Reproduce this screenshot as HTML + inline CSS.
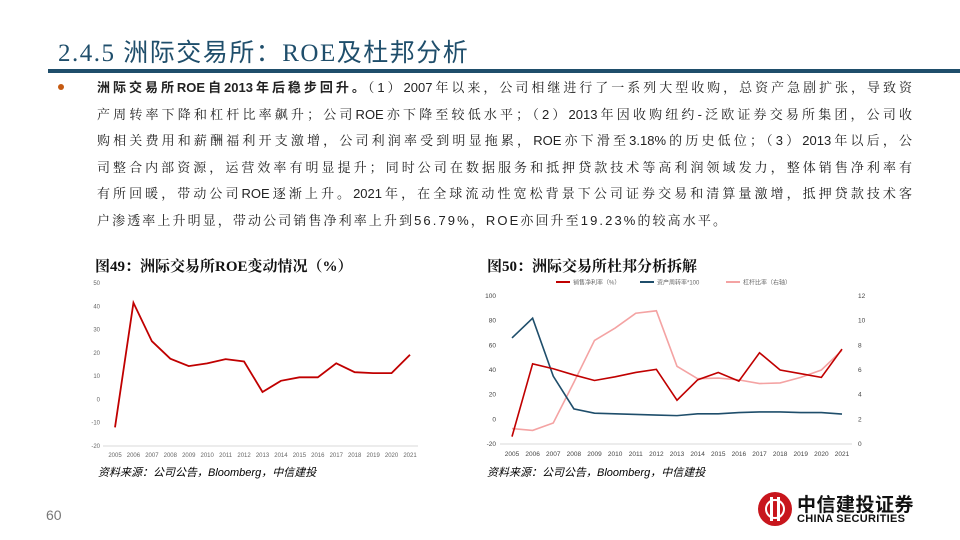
<!DOCTYPE html>
<html><head><meta charset="utf-8">
<style>
*{margin:0;padding:0;box-sizing:border-box}
body{width:960px;height:540px;background:#fff;position:relative;overflow:hidden;font-family:"Liberation Sans","Noto Sans CJK SC",sans-serif}
.title{position:absolute;left:58px;top:33px;font-size:25px;color:#1f4e6b;font-family:"Liberation Serif","Noto Sans CJK SC",serif;letter-spacing:1.5px;white-space:nowrap}
.rule{position:absolute;left:48px;top:69px;width:912px;height:4px;background:#1f4e6b}
.bullet{position:absolute;left:58px;top:84px;width:6px;height:6px;border-radius:50%;background:#c55a11}
.body{position:absolute;left:97px;top:75px;width:815px;font-size:13px;line-height:26.5px;color:#222;font-family:"Liberation Sans","Noto Serif CJK SC",serif}
.body div{text-align:justify;text-align-last:justify;white-space:nowrap;height:26.5px}
.body div.last{text-align-last:left;letter-spacing:2.1px}
.body b{font-weight:bold;font-family:"Liberation Sans","Noto Sans CJK SC",sans-serif}
.ct{position:absolute;top:255px;font-size:15px;font-weight:bold;color:#111;font-family:"Liberation Serif","Noto Serif CJK SC",serif}
.src{position:absolute;top:464px;font-size:11px;font-style:italic;color:#000}
.pn{position:absolute;left:46px;top:507px;font-size:14px;color:#777}
svg{position:absolute;left:0;top:0}
</style></head><body>
<div class="title">2.4.5 洲际交易所：ROE及杜邦分析</div>
<div class="rule"></div>
<div class="bullet"></div>
<div class="body">
<div><b>洲际交易所ROE自2013年后稳步回升。</b>（1）2007年以来，公司相继进行了一系列大型收购，总资产急剧扩张，导致资</div>
<div>产周转率下降和杠杆比率飙升；公司ROE亦下降至较低水平；（2）2013年因收购纽约-泛欧证券交易所集团，公司收</div>
<div>购相关费用和薪酬福利开支激增，公司利润率受到明显拖累，ROE亦下滑至3.18%的历史低位；（3）2013年以后，公</div>
<div>司整合内部资源，运营效率有明显提升；同时公司在数据服务和抵押贷款技术等高利润领域发力，整体销售净利率有</div>
<div>有所回暖，带动公司ROE逐渐上升。2021年，在全球流动性宽松背景下公司证券交易和清算量激增，抵押贷款技术客</div>
<div class="last">户渗透率上升明显，带动公司销售净利率上升到56.79%，ROE亦回升至19.23%的较高水平。</div>
</div>
<div class="ct" style="left:95px">图49：洲际交易所ROE变动情况（%）</div>
<div class="ct" style="left:487px">图50：洲际交易所杜邦分析拆解</div>
<div class="src" style="left:98px">资料来源：公司公告，Bloomberg，中信建投</div>
<div class="src" style="left:487px">资料来源：公司公告，Bloomberg，中信建投</div>
<div class="pn">60</div>
<svg id="chart" width="960" height="540"></svg>
<div style="position:absolute;left:758px;top:492px;width:34px;height:34px;border-radius:50%;background:#c8161d">
<div style="position:absolute;left:7px;top:7px;width:20px;height:20px;border-radius:50%;border:2px solid #fff"></div>
<div style="position:absolute;left:12px;top:5px;width:3px;height:24px;background:#fff"></div>
<div style="position:absolute;left:19px;top:5px;width:3px;height:24px;background:#fff"></div></div>
<div style="position:absolute;left:797px;top:490px;font-size:19px;font-weight:bold;color:#111;letter-spacing:0.5px">中信建投证券</div>
<div style="position:absolute;left:797px;top:513px;font-size:11px;font-weight:bold;color:#111;letter-spacing:0.3px">CHINA SECURITIES</div>
<script>
const years=["2005","2006","2007","2008","2009","2010","2011","2012","2013","2014","2015","2016","2017","2018","2019","2020","2021"];
const roe=[-12,41.5,25,17.5,14.3,15.5,17.3,16.3,3.2,8,9.5,9.5,15.5,11.7,11.3,11.3,19.2];
const ticks1=[50,40,30,20,10,0,-10,-20];
const netMargin=[-14,45,41,36,31.5,34.5,38,40.5,15.5,32,38,31,54,40,37,34,57];
const assetTurn=[66,82,35,8.5,5,4.5,4,3.5,3,4.5,4.5,5.5,6,6,5.5,5.5,4.3];
const leverage=[1.25,1.1,1.7,5.0,8.4,9.4,10.6,10.8,6.3,5.3,5.35,5.2,4.9,4.95,5.4,6.0,7.6];
const ticksL=[100,80,60,40,20,0,-20];
const ticksR=[12,10,8,6,4,2,0];
const seriesNames=["销售净利率（%）","资产周转率*100","杠杆比率（右轴）"];
const NS="http://www.w3.org/2000/svg";
const svg=document.getElementById('chart');
function mk(t,a,txt){const e=document.createElementNS(NS,t);for(const k in a)e.setAttribute(k,a[k]);if(txt!==undefined)e.textContent=txt;svg.appendChild(e);return e;}
// chart 1
const x1=i=>115+i*(410-115)/(years.length-1);
const y1=v=>446-(v+20)*(446-283)/70;
ticks1.forEach(t=>{const e=mk('text',{x:100,y:y1(t)+2,'font-size':6,fill:'#666','text-anchor':'end'},t);

});
mk('line',{x1:103,x2:418,y1:y1(-20),y2:y1(-20),stroke:'#d9d9d9','stroke-width':1});
years.forEach((yr,i)=>{const e=mk('text',{x:x1(i),y:457,'font-size':6,fill:'#666','text-anchor':'middle'},yr);

});
const p1=mk('polyline',{points:roe.map((v,i)=>x1(i)+','+y1(v)).join(' '),fill:'none',stroke:'#c00000','stroke-width':1.8});


// chart 2
const x2=i=>512+i*(842-512)/(years.length-1);
const yL=v=>444-(v+20)*(444-296)/120;
const yR=v=>444-v*(444-296)/12;
ticksL.forEach(t=>{const e=mk('text',{x:496,y:yL(t)+2,'font-size':6.5,fill:'#444','text-anchor':'end'},t);

});
ticksR.forEach(t=>{const e=mk('text',{x:858,y:yR(t)+2,'font-size':6.5,fill:'#444','text-anchor':'start'},t);

});
mk('line',{x1:500,x2:852,y1:yL(-20),y2:yL(-20),stroke:'#d9d9d9','stroke-width':1});
years.forEach((yr,i)=>{const e=mk('text',{x:x2(i),y:456,'font-size':6.5,fill:'#444','text-anchor':'middle'},yr);

});
const cols=['#c00000','#1f4e6b','#f4a3a3'];
const lp=mk('polyline',{points:leverage.map((v,i)=>x2(i)+','+yR(v)).join(' '),fill:'none',stroke:cols[2],'stroke-width':1.6});


const ap=mk('polyline',{points:assetTurn.map((v,i)=>x2(i)+','+yL(v)).join(' '),fill:'none',stroke:cols[1],'stroke-width':1.6});


const np=mk('polyline',{points:netMargin.map((v,i)=>x2(i)+','+yL(v)).join(' '),fill:'none',stroke:cols[0],'stroke-width':1.6});


const lx=[556,640,726];
seriesNames.forEach((n,i)=>{mk('line',{x1:lx[i],x2:lx[i]+14,y1:282,y2:282,stroke:cols[i],'stroke-width':2});
const e=mk('text',{x:lx[i]+17,y:284.5,'font-size':6,fill:'#666'},n);

});
</script>
</body></html>
